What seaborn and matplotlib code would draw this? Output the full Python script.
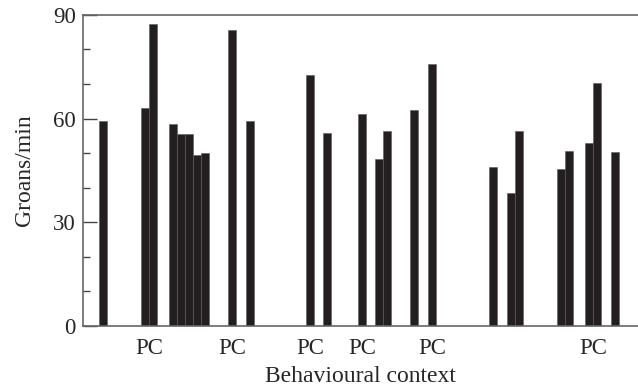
import numpy as np
import pandas as pd
import matplotlib
matplotlib.use("Agg")
import matplotlib.pyplot as plt
from matplotlib.ticker import MultipleLocator
import seaborn as sns

# context slot of each bar (in bar widths) and groan rate
context_pos = [2.5, 7.75, 8.75, 11.25, 12.25, 13.25, 14.25, 15.25, 18.6, 20.9,
               28.4, 30.5, 34.9, 37.0, 38.0, 41.4, 43.6, 51.2, 53.5, 54.5,
               59.75, 60.75, 63.25, 64.25, 66.4]
groans = [59.4, 63.1, 87.3, 58.4, 55.5, 55.5, 49.4, 50.0, 85.6, 59.4,
          72.6, 55.8, 61.3, 48.4, 56.4, 62.5, 75.8, 45.9, 38.5, 56.4,
          45.4, 50.6, 52.8, 70.4, 50.4]
# bars that carry a "PC" label (indices into the lists above)
pc_groups = [[1, 2], [8], [10], [12], [16], [22, 23]]
tick_label = "PC"

df = pd.DataFrame({"context": context_pos, "groans": groans})

sns.set_style("ticks")
plt.rcParams["font.family"] = ["Liberation Serif", "DejaVu Serif"]

fig = plt.figure(figsize=(6.38, 3.90), dpi=100)
ax = fig.add_axes([0.130, 0.164, 0.871, 0.798])

sns.barplot(data=df, x="context", y="groans", native_scale=True, width=1.0,
            color="#231f20", saturation=1, edgecolor="#5a5a5a", linewidth=0.4,
            ax=ax)

ax.set_xlim(0, 69.4)
ax.set_ylim(0, 90)
ax.yaxis.set_major_locator(MultipleLocator(30))
ax.yaxis.set_minor_locator(MultipleLocator(10))
ax.tick_params(axis="y", which="major", direction="in", length=10, width=1,
               color="#444444", pad=5, labelsize=16.5)
ax.tick_params(axis="y", which="minor", direction="in", length=5, width=1,
               color="#444444")

pc_ticks = [np.mean([context_pos[i] for i in g]) for g in pc_groups]
ax.set_xticks(pc_ticks)
ax.set_xticklabels([tick_label] * len(pc_ticks))
ax.tick_params(axis="x", length=0, pad=8.5, labelsize=16.5)

for side in ["left", "top", "bottom"]:
    ax.spines[side].set_color("#666666")
    ax.spines[side].set_linewidth(1.2)
ax.spines["right"].set_visible(False)

ax.set_xlabel("Behavioural context", fontsize=17, labelpad=5.5)
ax.set_ylabel("Groans/min", fontsize=17, labelpad=13)

fig.savefig("out.png", dpi=100)
